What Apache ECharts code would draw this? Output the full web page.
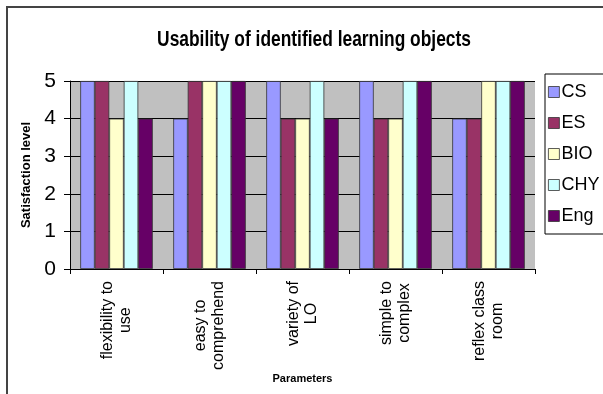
<!DOCTYPE html>
<html>
<head>
<meta charset="utf-8">
<script src="https://cdn.jsdelivr.net/npm/echarts@6/dist/echarts.min.js"></script>
<style>
  html, body { margin: 0; padding: 0; background: #ffffff; }
  #chart { width: 603px; height: 394px; }
</style>
</head>
<body>
<div id="chart"></div>
<script>
  "use strict";

  var chartTitle = "Usability of identified learning objects";

  var categories = [
    ["flexibility to", "use"],
    ["easy to", "comprehend"],
    ["variety of", "LO"],
    ["simple to", "complex"],
    ["reflex class", "room"]
  ];

  var seriesNames = ["CS", "ES", "BIO", "CHY", "Eng"];
  var csValues = [5, 4, 5, 5, 4];
  var esValues = [5, 5, 4, 4, 4];
  var bioValues = [4, 5, 4, 4, 5];
  var chyValues = [5, 5, 5, 5, 5];
  var engValues = [4, 5, 4, 5, 5];
  var yTicks = [0, 1, 2, 3, 4, 5];

  var palette = ["#9999ff", "#993366", "#ffffcc", "#ccffff", "#660066"];
  var plainFont = "'Liberation Sans', Arial, sans-serif";

  function buildSeries() {
    var values = [csValues, esValues, bioValues, chyValues, engValues];
    return seriesNames.map(function(name, i) {
      return {
        name: name,
        type: "bar",
        data: values[i],
        barGap: "0%",
        barCategoryGap: "22%",
        itemStyle: {
          color: palette[i],
          borderColor: "#333333",
          borderWidth: 0.8
        }
      };
    });
  }

  var chart = echarts.init(document.getElementById("chart"), null, {renderer: "canvas"});

  chart.setOption({
    animation: false,
    backgroundColor: "#ffffff",
    legend: {
      data: seriesNames,
      orient: "vertical",
      left: 545,
      top: 74,
      padding: [9, 12, 9, 3],
      itemGap: 13,
      itemWidth: 11,
      itemHeight: 11,
      borderColor: "#000000",
      borderWidth: 1,
      icon: "rect",
      itemStyle: {borderColor: "#333333", borderWidth: 0.8},
      textStyle: {
        fontFamily: plainFont,
        fontSize: 18,
        color: "#000000",
        padding: [0, 0, 0, -3]
      }
    },
    grid: {
      left: 70,
      right: 68,
      top: 81,
      bottom: 125,
      show: true,
      backgroundColor: "#c0c0c0",
      borderWidth: 0
    },
    xAxis: {
      type: "category",
      data: categories.map(function(c) { return c.join("\n"); }),
      name: "Parameters",
      nameLocation: "middle",
      nameGap: 104,
      nameTextStyle: {
        fontFamily: plainFont,
        fontWeight: "bold",
        fontSize: 11,
        color: "#000000"
      },
      axisLine: {lineStyle: {color: "#000000", width: 1}},
      axisTick: {show: true, length: 5, lineStyle: {color: "#000000"}},
      axisLabel: {
        rotate: 90,
        margin: 12,
        interval: 0,
        formatter: function(value) {
          return value.split("\n").map(function(line) {
            return "{c|" + line + "}";
          }).join("\n");
        },
        rich: {
          c: {
            align: "center",
            fontFamily: plainFont,
            fontSize: 16,
            lineHeight: 18,
            color: "#000000"
          }
        }
      }
    },
    yAxis: {
      type: "value",
      min: yTicks[0],
      max: yTicks[yTicks.length - 1],
      interval: 1,
      name: "Satisfaction level",
      nameLocation: "middle",
      nameGap: 37,
      nameTextStyle: {
        fontFamily: plainFont,
        fontWeight: "bold",
        fontSize: 13,
        color: "#000000"
      },
      axisLine: {show: true, lineStyle: {color: "#000000", width: 1}},
      axisTick: {show: true, length: 6, lineStyle: {color: "#000000"}},
      axisLabel: {
        margin: 14,
        fontFamily: plainFont,
        fontSize: 21,
        color: "#000000"
      },
      splitLine: {show: true, lineStyle: {color: "#000000", width: 1}}
    },
    series: buildSeries(),
    graphic: [{
      // title font in the original is a condensed bold face
      type: "text",
      x: 314,
      y: 40,
      scaleX: 0.79,
      silent: true,
      style: {
        text: chartTitle,
        textAlign: "center",
        textVerticalAlign: "middle",
        fontFamily: plainFont,
        fontWeight: "bold",
        fontSize: 22,
        fill: "#000000"
      }
    }, {
      type: "rect",
      silent: true,
      shape: {x: 7, y: 7, width: 700, height: 500},
      style: {fill: null, stroke: "#444444", lineWidth: 2}
    }]
  });
</script>
</body>
</html>
